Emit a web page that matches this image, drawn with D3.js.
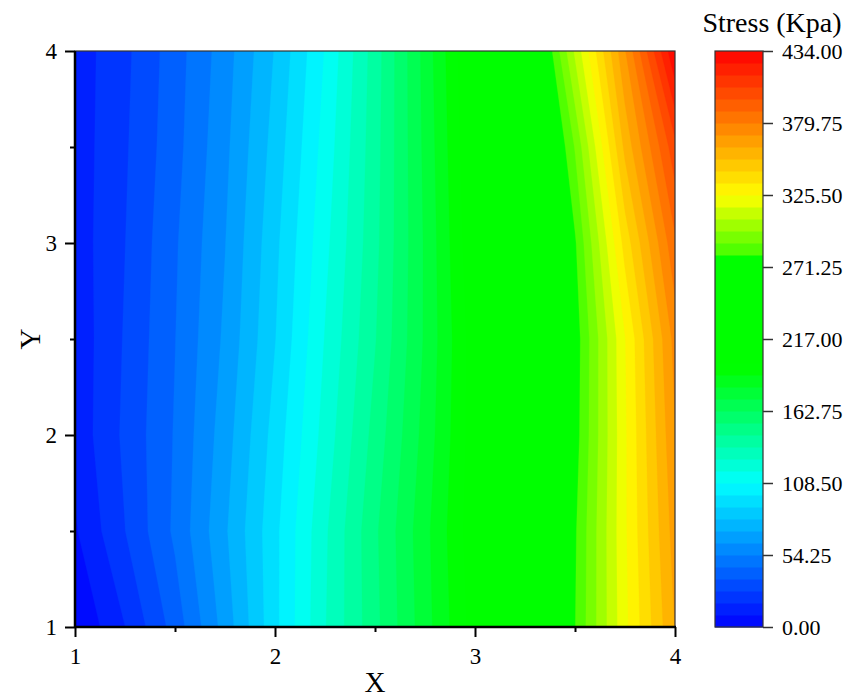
<!DOCTYPE html>
<html>
<head>
<meta charset="utf-8">
<script src="https://cdn.jsdelivr.net/npm/d3@7"></script>
<style>
  body { margin: 0; background: #fff; }
  text { font-family: "Liberation Serif", "Times New Roman", serif; fill: #000; }
</style>
</head>
<body>
<svg id="chart" width="849" height="698"></svg>
<script>
// grid of the measured field, rows go from y = 1 (bottom) to y = 4 (top)
const xGrid = [1, 1.25, 1.5, 1.75, 2, 2.25, 2.5, 2.75, 3, 3.25, 3.5, 3.75, 4];
const yGrid = [1, 1.5, 2, 2.5, 3, 3.5, 4];
const stress = [
  [0, 18, 40, 67, 97, 126, 151, 177, 203, 241, 280, 323, 362],
  [8, 27, 47, 71, 97, 125, 152, 178, 205, 242, 279, 324, 366],
  [12, 29, 46, 68, 94, 121, 148, 175, 204, 240, 276, 324, 370],
  [12, 28, 45, 65, 90, 118, 144, 173, 204, 240, 275, 325, 374],
  [13, 27, 44, 63, 88, 115, 142, 173, 207, 242, 279, 338, 387],
  [13, 26, 42, 61, 85, 112, 141, 174, 209, 240, 290, 355, 404],
  [13, 25, 41, 59, 82, 109, 140, 175, 211, 246, 309, 370, 434]
];
const stressMax = 434;
const levelCount = 48;
const barTicks = [0, 54.25, 108.5, 162.75, 217, 271.25, 325.5, 379.75, 434];
const xTicks = [1, 2, 3, 4];
const xMinor = [1.5, 2.5, 3.5];
const yTicks = [1, 2, 3, 4];
const yMinor = [1.5, 2.5, 3.5];
// palette stops (value -> colour)
const stopVals = [0, 108.5, 195, 280.3, 281, 325, 434];
const stopCols = ["#0000ff", "#00ffff", "#00ff00", "#00ff00", "#40ff00", "#ffff00", "#ff0000"];

const svg = d3.select("#chart");
const x = d3.scaleLinear().domain([1, 4]).range([75, 675]);
const y = d3.scaleLinear().domain([1, 4]).range([627, 51]);
const cmap = d3.scaleLinear().domain(stopVals).range(stopCols).interpolate(d3.interpolateRgb).clamp(true);

const step = stressMax / levelCount;
const levels = d3.range(levelCount).map(i => i * step);
const bandColor = i => cmap(levels[i] + step / 2);

// filled contours
const nx = xGrid.length, ny = yGrid.length;
const dxs = xGrid[1] - xGrid[0], dys = yGrid[1] - yGrid[0];
const contours = d3.contours().size([nx, ny]).thresholds(levels)(stress.flat());
const proj = d3.geoTransform({
  point(px, py) {
    this.stream.point(x(xGrid[0] + (px - 0.5) * dxs), y(yGrid[0] + (py - 0.5) * dys));
  }
});
const path = d3.geoPath(proj);

svg.append("clipPath").attr("id", "plotclip")
  .append("rect")
  .attr("x", x(1)).attr("y", y(4))
  .attr("width", x(4) - x(1)).attr("height", y(1) - y(4));

svg.append("g")
  .attr("clip-path", "url(#plotclip)")
  .selectAll("path")
  .data(contours)
  .enter()
  .append("path")
  .attr("d", path)
  .attr("fill", (d, i) => bandColor(i))
  .attr("stroke", (d, i) => bandColor(i))
  .attr("stroke-width", 0.3);

// frame: thin on top/right, heavy axis lines left/bottom
svg.append("rect")
  .attr("x", x(1)).attr("y", y(4))
  .attr("width", x(4) - x(1)).attr("height", y(1) - y(4))
  .attr("fill", "none").attr("stroke", "#333").attr("stroke-width", 1.2);

const styleAxis = g => {
  g.select(".domain").remove();
  g.selectAll("line").attr("stroke", "#000").attr("stroke-width", 2);
  g.selectAll("text").style("font-size", "23px").attr("font-family", null);
};

svg.append("g").attr("transform", `translate(0,${y(1)})`)
  .call(d3.axisBottom(x).tickValues(xTicks).tickSize(10).tickPadding(11).tickFormat(d3.format("d")))
  .call(styleAxis);
svg.append("g").attr("transform", `translate(0,${y(1)})`)
  .call(d3.axisBottom(x).tickValues(xMinor).tickSize(5).tickFormat(""))
  .call(styleAxis);
svg.append("g").attr("transform", `translate(${x(1)},0)`)
  .call(d3.axisLeft(y).tickValues(yTicks).tickSize(10).tickPadding(8).tickFormat(d3.format("d")))
  .call(styleAxis);
svg.append("g").attr("transform", `translate(${x(1)},0)`)
  .call(d3.axisLeft(y).tickValues(yMinor).tickSize(5).tickFormat(""))
  .call(styleAxis);

svg.append("line")
  .attr("x1", x(1)).attr("x2", x(4) + 1).attr("y1", y(1)).attr("y2", y(1))
  .attr("stroke", "#000").attr("stroke-width", 2.5);
svg.append("line")
  .attr("x1", x(1)).attr("x2", x(1)).attr("y1", y(4)).attr("y2", y(1))
  .attr("stroke", "#000").attr("stroke-width", 2.5);

svg.append("text")
  .attr("x", (x(1) + x(4)) / 2).attr("y", 692)
  .attr("text-anchor", "middle")
  .style("font-size", "29px")
  .text("X");
svg.append("text")
  .attr("transform", `translate(40,${(y(1) + y(4)) / 2}) rotate(-90)`)
  .attr("text-anchor", "middle")
  .style("font-size", "29px")
  .text("Y");

// colour bar
const bx = 715, bw = 48;
const cb = d3.scaleLinear().domain([0, stressMax]).range([627, 51]);
svg.append("g")
  .selectAll("rect")
  .data(levels)
  .enter()
  .append("rect")
  .attr("x", bx)
  .attr("y", d => cb(d + step))
  .attr("width", bw)
  .attr("height", d => cb(d) - cb(d + step) + 0.5)
  .attr("fill", (d, i) => bandColor(i));
svg.append("rect")
  .attr("x", bx).attr("y", cb(stressMax))
  .attr("width", bw).attr("height", cb(0) - cb(stressMax))
  .attr("fill", "none").attr("stroke", "#333").attr("stroke-width", 1.2);

svg.append("g").attr("transform", `translate(${bx + bw},0)`)
  .call(d3.axisRight(cb).tickValues(barTicks).tickSize(10).tickPadding(9).tickFormat(d3.format(".2f")))
  .call(g => {
    g.select(".domain").remove();
    g.selectAll("line").attr("stroke", "#333").attr("stroke-width", 1.5);
    g.selectAll("text").style("font-size", "22px").attr("font-family", null);
  });

svg.append("text")
  .attr("x", 772).attr("y", 32)
  .attr("text-anchor", "middle")
  .style("font-size", "28px")
  .text("Stress (Kpa)");
</script>
</body>
</html>
